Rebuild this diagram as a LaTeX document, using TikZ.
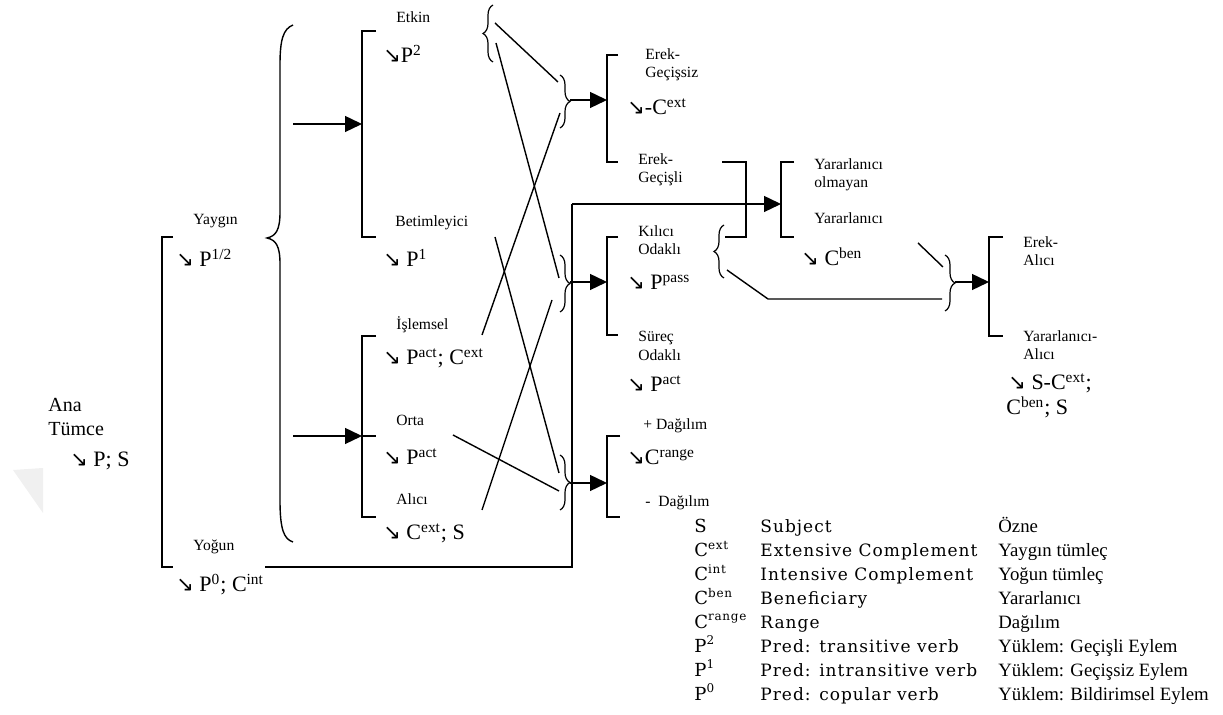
\documentclass[tikz,border=0pt]{standalone}
\usepackage{fontspec}
\setmainfont{Liberation Serif}
\newfontfamily\arrfont{DejaVu Sans}
\newfontfamily\legfont{DejaVu Serif}[LetterSpace=6]
\usetikzlibrary{decorations.pathreplacing,arrows.meta}
\newcommand{\myarr}{{\arrfont\fontsize{10.5}{11}\selectfont ↘}}
\tikzset{
  lbl/.style={anchor=base west, inner sep=0pt, font=\fontsize{7.8}{9}\selectfont},
  big/.style={anchor=base west, inner sep=0pt, font=\fontsize{10}{12}\selectfont},
  fml/.style={anchor=base west, inner sep=0pt, font=\fontsize{11}{12}\selectfont},
  legsym/.style={anchor=base west, inner sep=0pt, font=\legfont\fontsize{9}{10}\selectfont},
  legen/.style={anchor=base west, inner sep=0pt, font=\legfont\fontsize{8.5}{10}\selectfont},
  legtr/.style={anchor=base west, inner sep=0pt, font=\fontsize{9.4}{11}\selectfont},
  ln/.style={line width=0.7pt},
  arr/.style={line width=0.7pt, -{Triangle[length=8.5pt,width=8pt]}},
  br/.style={decorate, decoration={brace, amplitude=5pt}, line width=0.6pt},
}
\begin{document}
\begin{tikzpicture}[x=0.5pt,y=-0.5pt]
\useasboundingbox (0,0) rectangle (1223,715);
% faint watermark
\fill[black!6] (13,470) -- (43,468) -- (43,513) -- cycle;

% ---- coordinates ----
\coordinate (bigtip) at (293,124);
\coordinate (bigtip2) at (293,436);
\coordinate (etkB) at (362,124);
\coordinate (islB) at (362,436);
\coordinate (gsB) at (607,100);
\coordinate (koB) at (607,282);
\coordinate (dgB) at (607,483);
\coordinate (yrB) at (781,204);
\coordinate (eaB) at (989,282);
\coordinate (gsTip) at (570,100);
\coordinate (koTip) at (570,282);
\coordinate (dgTip) at (570,483);
\coordinate (eaTip) at (955,282);
\coordinate (yogC) at (572,567);
\coordinate (yogU) at (572,204);

% ---- big brace ----
\draw[ln] (293,25) .. controls (283,29) and (280,40) .. (280,65) -- (280,212)
  .. controls (280,230) and (276,236) .. (267,238)
  .. controls (276,240) and (280,246) .. (280,264) -- (280,500)
  .. controls (280,530) and (284,539) .. (293,542);

% ---- brackets ----
\draw[ln] (173,237) -- (162,237) -- (162,567) -- (173,567);
\draw[ln] (376,31) -- (362,31) -- (362,237) -- (376,237);
\draw[ln] (376,336) -- (362,336) -- (362,517) -- (376,517);
\draw[ln] (362,436) -- (376,436);
\draw[ln] (618,55) -- (607,55) -- (607,162) -- (618,162);
\draw[ln] (618,237) -- (607,237) -- (607,335) -- (618,335);
\draw[ln] (620,436) -- (607,436) -- (607,517) -- (620,517);
\draw[ln] (722,162) -- (746,162) -- (746,237) -- (725,237);
\draw[ln] (794,162) -- (781,162) -- (781,237) -- (794,237);
\draw[ln] (1003,237) -- (989,237) -- (989,336) -- (1003,336);

% ---- small braces ----
\draw[br] (493,62) -- (493,5);
\draw[br] (560,75) -- (560,128);
\draw[br] (560,255) -- (560,312);
\draw[br] (560,455) -- (560,510);
\draw[br] (724,278) -- (724,225);
\draw[br] (945,255) -- (945,311);

% ---- arrows ----
\draw[arr] (bigtip) -- (etkB);
\draw[arr] (bigtip2) -- (islB);
\draw[arr] (gsTip) -- (gsB);
\draw[arr] (koTip) -- (koB);
\draw[arr] (dgTip) -- (dgB);
\draw[arr] (eaTip) -- (eaB);
\draw[ln] (265,567) -- (yogC) -- (yogU);
\draw[arr] (yogU) -- (yrB);

% ---- crossing lines ----
\draw[ln] (495,23) -- (558,82);
\draw[ln] (496,43) -- (559,278);
\draw[ln] (482,335) -- (560,113);
\draw[ln] (495,237) -- (559,473);
\draw[ln] (482,510) -- (552,300);
\draw[ln] (453,435) -- (559,491);
\draw[ln] (727,270) -- (768,299) -- (942,299);
\draw[ln] (918,243) -- (943,267);

% ---- labels ----
\node[big] (ana) at (48,412) {Ana};
\node[big] (tumce) at (48,436) {Tümce};
\node[fml] (anaf) at (70,467) {\myarr\ P; S};
\node[lbl] (yaygin) at (193,225) {Yaygın};
\node[fml] (yayginf) at (176,267) {\myarr\ P\textsuperscript{1/2}};
\node[lbl] (yogun) at (193,551) {Yoğun};
\node[fml] (yogunf) at (176,592) {\myarr\ P\textsuperscript{0}; C\textsuperscript{int}};

\node[lbl] (etkin) at (396,23) {Etkin};
\node[fml] (etkinf) at (383,63) {\myarr P\textsuperscript{2}};
\node[lbl] (betim) at (395,227) {Betimleyici};
\node[fml] (betimf) at (383,267) {\myarr\ P\textsuperscript{1}};
\node[lbl] (islem) at (396,330) {İşlemsel};
\node[fml] (islemf) at (383,365) {\myarr\ P\textsuperscript{act}; C\textsuperscript{ext}};
\node[lbl] (orta) at (396,426) {Orta};
\node[fml] (ortaf) at (383,465) {\myarr\ P\textsuperscript{act}};
\node[lbl] (alici) at (396,505) {Alıcı};
\node[fml] (alicif) at (383,540) {\myarr\ C\textsuperscript{ext}; S};

\node[lbl] (gs1) at (645,60) {Erek-};
\node[lbl] (gs2) at (645,78) {Geçişsiz};
\node[fml] (gsf) at (627,115) {\myarr-C\textsuperscript{ext}};
\node[lbl] (gl1) at (638,165) {Erek-};
\node[lbl] (gl2) at (638,183) {Geçişli};
\node[lbl] (ko1) at (638,237) {Kılıcı};
\node[lbl] (ko2) at (638,255) {Odaklı};
\node[fml] (kof) at (627,290) {\myarr\ P\textsuperscript{pass}};
\node[lbl] (so1) at (638,342) {Süreç};
\node[lbl] (so2) at (638,361) {Odaklı};
\node[fml] (sof) at (627,392) {\myarr\ P\textsuperscript{act}};
\node[lbl] (dg1) at (643,430) {+ Dağılım};
\node[fml] (dgf) at (627,465) {\myarr C\textsuperscript{range}};
\node[lbl] (dg2) at (645,507) {-\ \ Dağılım};

\node[lbl] (yo1) at (814,170) {Yararlanıcı};
\node[lbl] (yo2) at (814,188) {olmayan};
\node[lbl] (yr) at (814,224) {Yararlanıcı};
\node[fml] (yrf) at (801,266) {\myarr\ C\textsuperscript{ben}};
\node[lbl] (ea1) at (1023,248) {Erek-};
\node[lbl] (ea2) at (1023,266) {Alıcı};
\node[lbl] (ya1) at (1023,342) {Yararlanıcı-};
\node[lbl] (ya2) at (1023,360) {Alıcı};
\node[fml] (yaf1) at (1008,390) {\myarr\ S-C\textsuperscript{ext};};
\node[fml] (yaf2) at (1006,415) {C\textsuperscript{ben}; S};

% ---- legend ----
\foreach \i/\s/\e/\t in {0/S/Subject/Özne,
  1/C\textsuperscript{ext}/Extensive Complement/Yaygın tümleç,
  2/C\textsuperscript{int}/Intensive Complement/Yoğun tümleç,
  3/C\textsuperscript{ben}/Beneficiary/Yararlanıcı,
  4/C\textsuperscript{range}/Range/Dağılım,
  5/P\textsuperscript{2}/Pred: transitive verb/Yüklem: Geçişli Eylem,
  6/P\textsuperscript{1}/Pred: intransitive verb/Yüklem: Geçişsiz Eylem,
  7/P\textsuperscript{0}/Pred: copular verb/Yüklem: Bildirimsel Eylem}{
  \node[legsym] (ls\i) at (694,533+23.9*\i) {\s};
  \node[legen] (le\i) at (760,533+23.9*\i) {\e};
  \node[legtr] (lt\i) at (998,533+23.9*\i) {\t};
}
\end{tikzpicture}
\end{document}
